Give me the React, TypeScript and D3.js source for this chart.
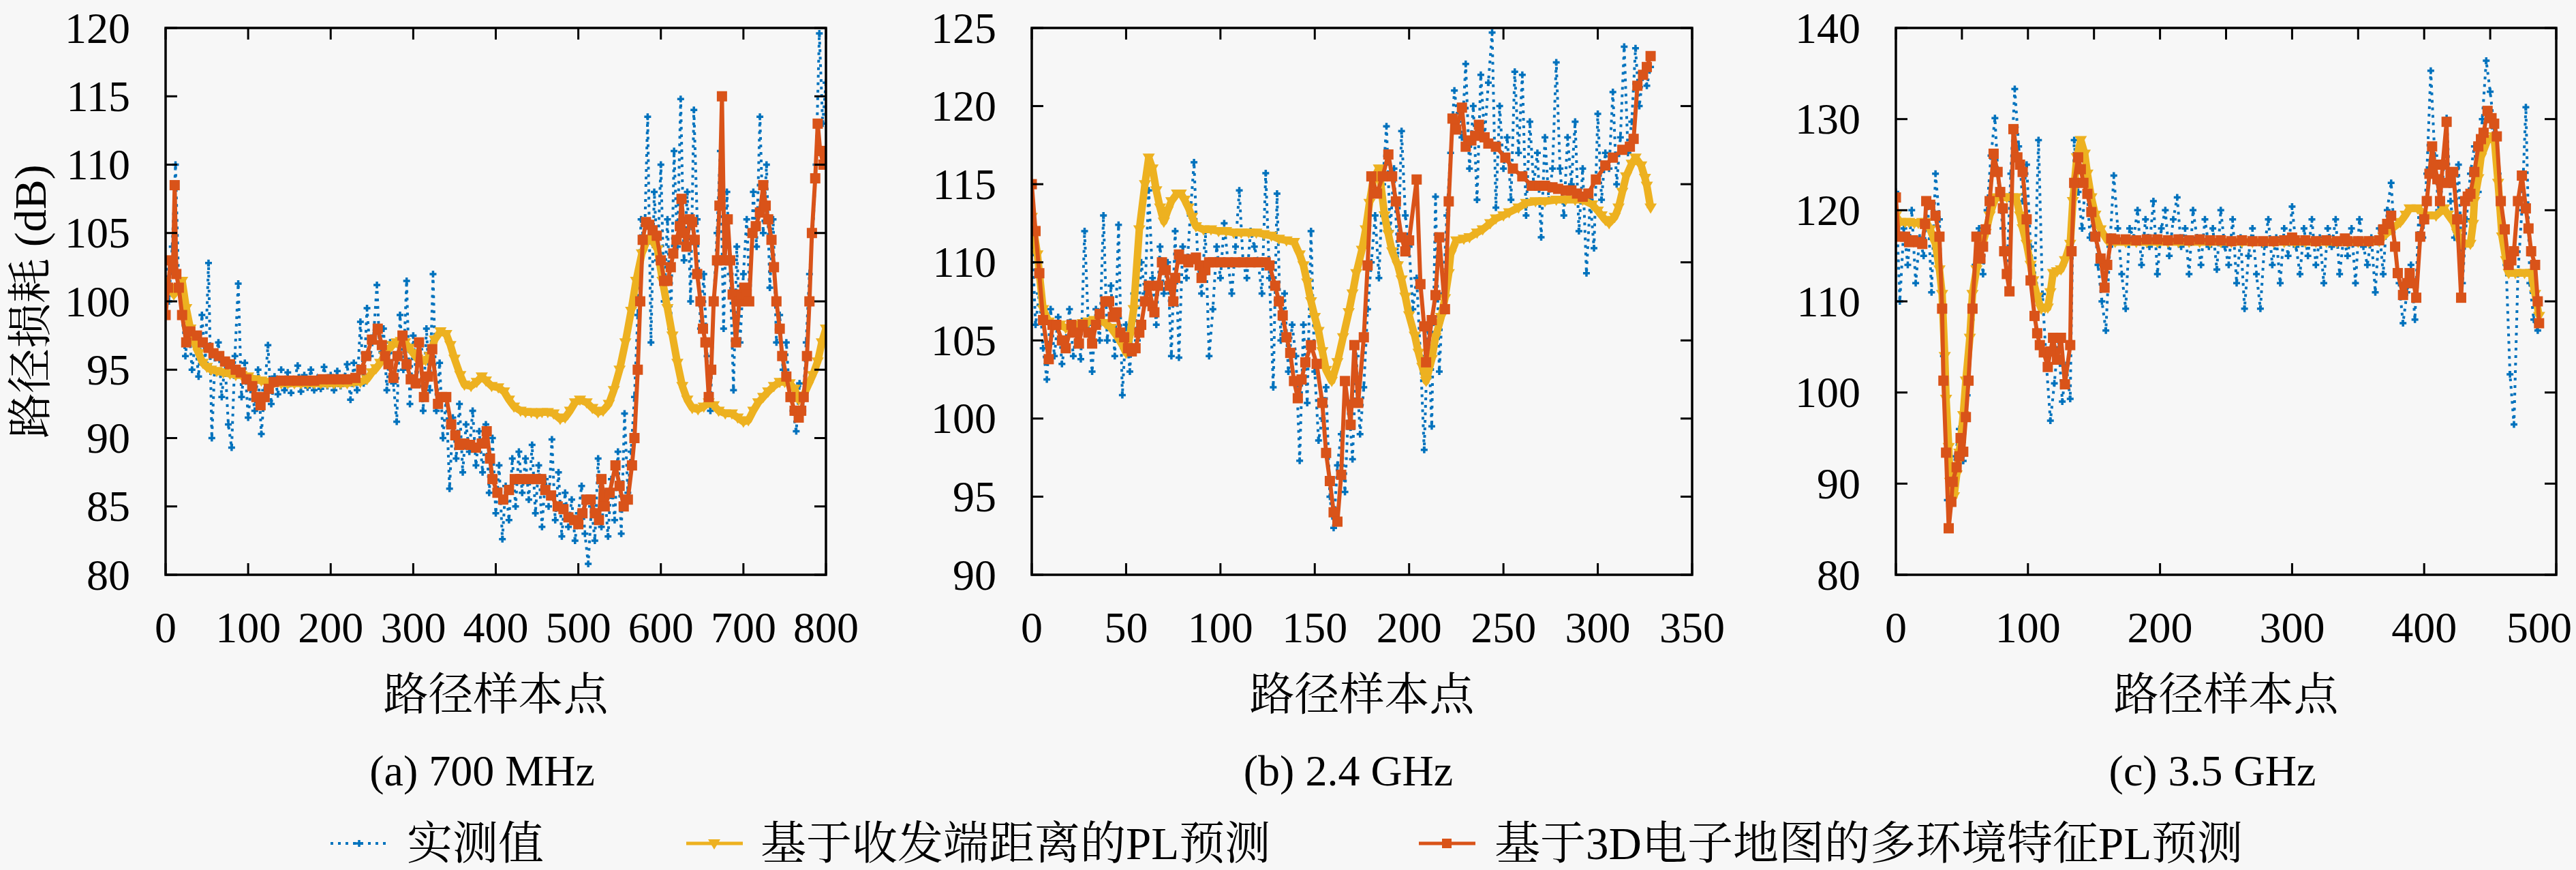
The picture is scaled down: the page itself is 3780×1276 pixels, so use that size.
import { useEffect } from 'react'
import * as d3 from 'd3'

const BG = '#f7f7f7'
const BLUE = '#0072BD'
const YELLOW = '#EDB120'
const RED = '#D95319'
const SERIF = "'Liberation Serif', 'DejaVu Serif', serif"
const CJK = "'Liberation Serif', 'Noto Serif CJK SC', 'Noto Sans CJK SC', serif"

const seriesNames = ['实测值', '基于收发端距离的PL预测', '基于3D电子地图的多环境特征PL预测']
const captions = ['(a) 700 MHz', '(b) 2.4 GHz', '(c) 3.5 GHz']
const xLabel = '路径样本点'
const yLabel = '路径损耗 (dB)'

const xDomains = [[0, 800], [0, 350], [0, 500]]
const yDomains = [[80, 120], [90, 125], [80, 140]]
const xTicksBottom = [
  [0, 100, 200, 300, 400, 500, 600, 700, 800],
  [0, 50, 100, 150, 200, 250, 300, 350],
  [0, 100, 200, 300, 400, 500],
]
const xTicksTop = [
  [0, 100, 200, 300, 400, 500, 600, 700, 800],
  [0, 50, 100, 150, 200, 250, 300, 350],
  [0, 50, 100, 150, 200, 250, 300, 350, 400, 450, 500],
]
const yTicks = [
  [80, 85, 90, 95, 100, 105, 110, 115, 120],
  [90, 95, 100, 105, 110, 115, 120, 125],
  [80, 90, 100, 110, 120, 130, 140],
]

// measured values, sampled every `measSteps[k]` path points
const measSteps = [4, 2, 3]
const measA = [
  103, 100, 104, 110, 101, 99,
  96, 98.5, 95, 97, 94.5, 99, 95.5, 102.8, 90, 96,
  97, 93, 95.5, 91, 89.3, 96, 101.3, 93, 95.5, 91.5,
  94, 92, 95, 90.3, 93.5, 96.8, 92.5, 94.5, 93.2, 95,
  93.5, 94.8, 93.3, 94.2, 95.3, 93.4, 94.6, 93.7, 95, 93.5,
  94.4, 93.6, 95.2, 93.8, 94.6, 93.5, 94.9, 93.8, 94.3, 95.4,
  92.8, 95.5, 93.5, 98.5, 94, 99.5, 96, 97.5, 101.2, 95.5,
  98, 93.5, 97, 94, 91.2, 99, 95, 101.5, 92.5, 97.5,
  94, 96.5, 92, 98, 93.5, 102, 92, 95.5, 90, 93,
  86.3, 91.5, 88.5, 92.5, 87.5, 91, 89, 92, 88, 90.5,
  87.5, 91, 86, 90, 84.5, 88, 82.6, 86.5, 84, 88.5,
  85, 89, 86, 88.5, 85.5, 89.5, 84.5, 88, 83.5, 87,
  85, 89.9, 84, 87.5, 82.8, 86, 83.5, 85.5, 82.5, 84.5,
  86.5, 83, 80.8, 85, 82.5, 88.5, 83.5, 86, 82.8, 87,
  84, 89, 83, 91.8, 86, 89, 93, 99, 106, 104,
  113.5, 97, 108, 103, 110, 100, 106, 98, 111, 104,
  114.8, 103, 108, 100, 114, 106, 98, 102, 96, 92,
  100, 105, 111, 98, 108, 102, 93.5, 104, 97, 102,
  106, 100, 108, 104, 113.5, 105, 110, 101, 106, 97,
  99, 95, 97, 93, 92, 90.5, 94, 92, 97, 102,
  105, 110, 119.6, 113, 116,
]
const measB = [
  112, 106, 108, 104.5, 102.5, 107, 104, 106.5, 103.5, 105,
  107, 104, 106, 103.8, 112, 106, 103, 107, 105, 113,
  105, 108.5, 104, 112.4, 101.5, 106, 103, 108, 105, 110,
  108, 114.6, 109, 106, 111, 108, 110, 104, 112, 103.9,
  111, 109, 113, 116.4, 110, 108, 112, 104, 107, 111,
  109, 112.5, 110, 108, 111, 114.6, 110, 109, 112, 111,
  110, 108, 115.7, 109, 102, 114.4, 105, 108, 103, 106,
  104, 97.3, 106, 101, 112, 103, 98.6, 100, 102, 95,
  93, 97, 99, 95.3, 101, 97.4, 104, 99, 102, 107,
  110, 113, 109, 115, 118.7, 112, 116, 110, 118.4, 113,
  111, 107, 109, 104, 98, 106, 99.5, 114.2, 103, 108,
  113, 117, 121, 119, 118, 122.7, 116, 120, 114, 122,
  118, 121.5, 124.7, 113.5, 120, 116, 118, 114, 122.2, 117,
  122, 113, 119, 115, 117, 111.6, 118, 114, 116, 122.8,
  116, 113, 118, 115, 119, 112, 116, 109.3, 114, 110.9,
  119.5, 114, 117, 116, 120.9, 115, 118, 123.8, 117, 119,
  123.7, 120, 122, 121.3, 122.5,
]
const measC = [
  122, 110, 118, 114, 120, 112, 117, 115, 121, 111,
  124, 119, 104, 88.2, 90, 93, 96, 92.5, 99.7, 108,
  114, 118, 113, 120, 126, 130.1, 122, 118, 113, 124,
  133.3, 127, 121, 125, 116, 112, 127.7, 110.8, 103, 96.9,
  101, 106, 99, 103, 99.3, 127.7, 122, 118, 124, 117,
  120, 114, 110, 106.8, 116, 123.8, 118, 113, 109.2, 118,
  117, 120, 114, 119, 116, 121, 113, 118, 120, 115,
  119, 121.4, 116, 118, 113, 120, 117, 114, 119, 116,
  118, 113.5, 120, 116, 114, 119, 112, 117, 109.2, 115,
  118, 113, 109.2, 116, 119, 114, 117, 112, 118, 115,
  120.4, 116, 113, 118, 115, 119, 114, 117, 112, 118,
  116, 119, 113, 117, 115, 118, 112, 119, 116, 114,
  117, 111, 118, 113, 120, 123, 116, 112, 107.6, 111,
  114, 108, 120, 117, 124, 135.3, 126, 120, 123, 130.1,
  121, 117, 125, 112, 119, 124, 127, 122, 130, 136.4,
  133, 129, 124, 118, 114, 102, 96.5, 113, 120, 131.3,
  112, 108, 106.8,
]

// distance-based prediction: [sample, dB]
const distA: [number, number][] = [
  [0, 101.5], [5, 101], [10, 100.5], [15, 101], [20, 101.5], [25, 99.5], [30, 98], [35, 97], [40, 96.2],
  [45, 95.5], [50, 95.2], [55, 95], [62, 94.9], [70, 94.8], [78, 94.7], [85, 94.6], [92, 94.6], [100, 94.5],
  [108, 94.3], [116, 94.2], [124, 94.1], [132, 94.1], [140, 94], [148, 94], [156, 94], [164, 94], [172, 94],
  [180, 94], [188, 94], [196, 94], [204, 94], [212, 94], [220, 94], [228, 94.1], [236, 94.1], [244, 94.3],
  [250, 94.8], [255, 95.1], [260, 95.5], [265, 96], [270, 96.5], [275, 96.8], [280, 97], [285, 97.1], [290, 97],
  [295, 96.6], [300, 96.2], [305, 95.8], [310, 95.6], [315, 95.7], [320, 96], [326, 97.2], [333, 97.8],
  [340, 97.6], [345, 96.8], [350, 95.8], [357, 94.6], [362, 93.9], [370, 93.8], [377, 94.1], [383, 94.5],
  [388, 94.2], [395, 93.8], [403, 93.7], [410, 93.4], [416, 92.8], [422, 92.3], [430, 92], [436, 91.9],
  [443, 91.9], [450, 91.8], [456, 91.9], [463, 91.9], [470, 91.8], [478, 91.4], [484, 91.5], [490, 92],
  [496, 92.6], [502, 92.8], [510, 92.6], [517, 92.2], [524, 91.9], [530, 92], [537, 92.5], [543, 93.5],
  [550, 95], [557, 97], [564, 99.3], [570, 101.5], [577, 103.5], [584, 104.6], [590, 104.4], [596, 103.8],
  [602, 101.5], [608, 99.5], [614, 97.5], [620, 95.5], [626, 93.8], [632, 92.8], [638, 92.2], [645, 92.1],
  [652, 92.3], [658, 92.6], [664, 92.4], [670, 92], [678, 91.8], [686, 91.8], [693, 91.5], [700, 91.2],
  [706, 91.3], [712, 92], [718, 92.6], [724, 93], [730, 93.4], [737, 93.8], [744, 94.1], [750, 94.1],
  [756, 94], [762, 93.6], [767, 92.8], [772, 93], [778, 93.8], [784, 94.6], [790, 95.6], [795, 97], [800, 98],
]
const distB: [number, number][] = [
  [0, 112.9], [3, 110.5], [6, 107], [9, 106.2], [12, 106], [15, 106], [18, 105.8], [21, 105.8], [24, 106],
  [27, 106.1], [30, 106.2], [33, 106.3], [36, 106.3], [39, 106.1], [42, 105.8], [45, 105.3], [48, 104.7],
  [50, 104.2], [52, 105.3], [54, 107], [57, 112.1], [60, 115], [62, 116.7], [64, 116], [66, 114.6],
  [68, 113.5], [70, 112.6], [72, 113.3], [74, 113.9], [77, 114.4], [79, 114.4], [81, 114], [83, 113.5],
  [85, 112.9], [87, 112.3], [91, 112.1], [95, 112.1], [99, 112], [103, 112], [107, 111.9], [111, 111.9],
  [115, 111.9], [119, 111.9], [123, 111.8], [127, 111.7], [131, 111.5], [135, 111.4], [139, 111.3],
  [142, 110.5], [144, 109.8], [146, 108.7], [148, 107.5], [150, 106.5], [152, 105.6], [154, 104.3],
  [156, 103.1], [159, 102.4], [162, 103.6], [165, 105.2], [168, 106.8], [170, 108], [172, 109.3],
  [175, 110.8], [177, 112.1], [179, 113.8], [181, 115.3], [184, 116], [187, 113], [189, 111.8], [191, 110.7],
  [194, 109.8], [196, 108.9], [198, 107.8], [200, 106.6], [203, 105.3], [205, 104.2], [207, 103.3],
  [209, 102.4], [212, 103.8], [214, 105.2], [217, 106.5], [219, 107.7], [221, 109.3], [222, 110.5],
  [225, 111.4], [229, 111.5], [232, 111.6], [236, 111.9], [239, 112.1], [243, 112.5], [246, 112.8],
  [250, 113], [253, 113.2], [258, 113.5], [262, 113.8], [267, 113.9], [272, 113.9], [278, 114], [283, 114],
  [288, 114], [292, 114], [297, 113.7], [300, 113.3], [302, 113], [304, 112.7], [306, 112.5], [309, 112.9],
  [311, 113.5], [313, 114.5], [315, 115.5], [318, 116.3], [320, 116.7], [323, 116.2], [325, 115.4],
  [326, 114.9], [328, 113.5],
]
const distC: [number, number][] = [
  [0, 119.4], [3, 118.7], [7, 118.7], [10, 118.7], [14, 118.6], [17, 118.6], [20, 118.7], [23, 118.7],
  [26, 117.9], [30, 116.3], [33, 113.5], [35, 110.8], [37, 104], [38, 99.3], [40, 94], [41, 90.2], [44, 88.6],
  [46, 91], [48, 93.4], [51, 97.5], [53, 101.3], [56, 106], [58, 110.8], [61, 113.5], [64, 115.5], [68, 117.5],
  [71, 119.4], [74, 120.8], [76, 121.4], [80, 121.4], [84, 121.4], [88, 121.4], [91, 121.4], [94, 119.4],
  [96, 118], [99, 116.3], [102, 114], [104, 112.3], [107, 110.5], [110, 109.2], [113, 109.3], [115, 109.3],
  [117, 111], [119, 113.1], [122, 113.3], [125, 113.5], [128, 114.5], [132, 116.3], [134, 121], [137, 125.8],
  [140, 127.7], [143, 126.2], [145, 124], [148, 121.4], [151, 119.5], [155, 117.9], [160, 116.7],
  [166, 116.5], [174, 116.5], [182, 116.5], [190, 116.5], [198, 116.5], [206, 116.5], [214, 116.5],
  [222, 116.5], [230, 116.5], [238, 116.5], [246, 116.5], [254, 116.5], [262, 116.5], [270, 116.5],
  [278, 116.5], [286, 116.5], [294, 116.5], [302, 116.5], [310, 116.5], [318, 116.5], [326, 116.5],
  [334, 116.5], [342, 116.5], [350, 116.5], [358, 116.5], [366, 116.6], [369, 117.1], [375, 117.9],
  [382, 118.7], [386, 119.5], [389, 120.2], [395, 120.2], [402, 119.4], [409, 119.4], [415, 120.2],
  [418, 119.5], [422, 118.7], [425, 117.5], [428, 116.3], [435, 116.3], [437, 118.5], [438, 121],
  [441, 123.5], [443, 125.8], [448, 127.7], [453, 128.1], [456, 123], [459, 117.1], [462, 114.5],
  [464, 113.1], [469, 113.1], [476, 113.1], [481, 113.1], [484, 110.8], [487, 108.4],
]

// 3D map multi-feature prediction: [sample, dB]
const mapA: [number, number][] = [
  [0, 99], [3, 101], [6, 103], [9, 102.5], [11, 108.5], [13, 102], [16, 101], [20, 99], [25, 97], [30, 97.8],
  [38, 97.5], [45, 97], [52, 96.6], [58, 96.2], [65, 96], [72, 95.6], [78, 95.4], [85, 95], [91, 94.8],
  [98, 94.3], [105, 93.8], [110, 93], [115, 92.4], [120, 93], [125, 93.6], [131, 94.1], [140, 94.2],
  [150, 94.2], [160, 94.2], [170, 94.2], [180, 94.2], [190, 94.3], [200, 94.3], [210, 94.3], [220, 94.3],
  [230, 94.4], [237, 95], [243, 96], [250, 97.2], [257, 98], [262, 96.8], [266, 96], [270, 95.4],
  [276, 94.4], [281, 96], [287, 97.5], [292, 95.4], [297, 94.3], [303, 94], [307, 97], [313, 93],
  [318, 94.5], [323, 96.5], [330, 92.5], [335, 93], [340, 93], [346, 91], [351, 90.2], [356, 89.5],
  [362, 89.6], [369, 89.5], [376, 89.3], [383, 89.6], [389, 90.5], [393, 88.5], [396, 87], [402, 86],
  [409, 85.5], [416, 86.2], [423, 87], [430, 87], [440, 87], [450, 87], [455, 87], [460, 86.2],
  [467, 85.8], [475, 85], [482, 84.8], [488, 84.2], [495, 84], [500, 83.7], [505, 84.5], [510, 85.5],
  [515, 85.5], [520, 84.5], [525, 84], [528, 87], [532, 85], [538, 86], [545, 88], [550, 86.5], [555, 85],
  [560, 85.5], [565, 88], [568, 90], [572, 95], [575, 100], [578, 104.5], [582, 105.8], [586, 105.6],
  [590, 105.2], [595, 104.8], [600, 103], [604, 101.5], [608, 101.5], [612, 102.5], [615, 103.5],
  [619, 104.5], [623, 105.5], [625, 107.5], [628, 105], [631, 104], [635, 106], [638, 105.8], [641, 104.5],
  [644, 102], [648, 100], [651, 98], [654, 97], [658, 93], [661, 95], [664, 100], [668, 103], [671, 107],
  [674, 115], [677, 103], [681, 106], [684, 103], [687, 100.5], [691, 97], [695, 100], [698, 100.5],
  [701, 101], [704, 100.5], [707, 100], [711, 105], [715, 105.5], [720, 106.5], [724, 108.5], [727, 107],
  [730, 106], [734, 104.5], [737, 102.5], [740, 100], [744, 98], [747, 96], [752, 94.5], [757, 93],
  [762, 92], [767, 91.5], [770, 92], [773, 93], [777, 96], [780, 100], [783, 105], [787, 109], [790, 113],
  [793, 111], [797, 110], [800, 111],
]
const mapB: [number, number][] = [
  [0, 115], [2, 112], [4, 109.3], [6, 106.3], [9, 103.8], [11, 106], [13, 106], [16, 105], [18, 104.5],
  [21, 106], [23, 105.5], [25, 104.8], [27, 106], [30, 105.5], [32, 104.8], [34, 106], [36, 106.7],
  [39, 107.5], [41, 107.5], [43, 106.5], [45, 106.8], [47, 105.5], [49, 105.2], [51, 104.5], [53, 104.3],
  [55, 104.5], [57, 105.5], [58, 106], [60, 107.5], [62, 108.5], [64, 107.2], [65, 106.8], [67, 108.5],
  [69, 110], [71, 109.5], [73, 108.5], [75, 107.5], [76, 109], [78, 110.5], [80, 110.2], [83, 110],
  [85, 110.2], [87, 110.3], [89, 109.8], [90, 109], [92, 109.5], [94, 110], [96, 110], [100, 110],
  [104, 110], [108, 110], [112, 110], [116, 110], [120, 110], [124, 110], [126, 109.8], [129, 108.5],
  [131, 107.5], [133, 106.6], [135, 105.2], [137, 104.2], [139, 102.4], [141, 101.3], [143, 102.5],
  [145, 103.6], [148, 104.7], [151, 103.5], [154, 101], [156, 97.8], [158, 96], [160, 94], [162, 93.4],
  [164, 96.4], [166, 102.4], [169, 99.6], [171, 104.7], [173, 101], [176, 105.2], [178, 109.8],
  [180, 115.5], [183, 114.4], [186, 115.5], [189, 116.9], [191, 115.5], [193, 113.9], [196, 111.6],
  [198, 110.7], [200, 111.4], [204, 115.3], [206, 108.6], [208, 105.9], [209, 103.6], [212, 106.3],
  [214, 107.9], [216, 111.6], [219, 107], [221, 113.9], [223, 119.2], [225, 118.5], [228, 119.9],
  [230, 117.4], [233, 117.8], [235, 118.1], [237, 118.8], [240, 118], [242, 117.6], [246, 117.4],
  [251, 116.7], [255, 116], [260, 115.5], [265, 114.9], [269, 114.9], [272, 114.9], [276, 114.8],
  [279, 114.7], [283, 114.6], [286, 114.6], [289, 114.4], [292, 114.2], [295, 114.4], [299, 115.3],
  [304, 116.2], [308, 116.7], [313, 117.2], [317, 117.4], [319, 117.9], [321, 121.3], [324, 122],
  [326, 122.5], [328, 123.2],
]
const mapC: [number, number][] = [
  [0, 121.4], [2, 117.1], [7, 117.1], [10, 116.5], [13, 116.7], [17, 116.5], [20, 116.3], [22, 118.5],
  [23, 121], [26, 120.6], [30, 119.4], [33, 117.1], [35, 109.2], [36, 101.3], [38, 93.4], [40, 85.1],
  [42, 88], [43, 90.2], [46, 91.8], [48, 93], [49, 95], [51, 93.5], [53, 97.3], [55, 101.3], [58, 109.2],
  [61, 117.1], [63, 115], [64, 114.7], [66, 116], [68, 117.9], [71, 121], [74, 126.2], [77, 124.2],
  [79, 122], [81, 120.2], [82, 115.5], [84, 113], [86, 111.1], [89, 128.9], [92, 125.8], [94, 125],
  [96, 124.2], [99, 119], [102, 112.3], [105, 108.4], [107, 106.5], [109, 105.2], [112, 104.4],
  [115, 102.8], [117, 104.5], [119, 106], [122, 103.6], [125, 106], [128, 100.9], [132, 105.2],
  [133, 115.5], [135, 123], [138, 125.8], [140, 124.5], [142, 123], [145, 121.8], [148, 119.8],
  [151, 117.1], [155, 114.7], [158, 111.5], [160, 114], [163, 116.9], [166, 116.8], [174, 116.8],
  [182, 116.7], [190, 116.8], [198, 116.8], [206, 116.7], [214, 116.8], [222, 116.7], [230, 116.8],
  [238, 116.7], [246, 116.7], [254, 116.6], [262, 116.7], [270, 116.6], [278, 116.6], [286, 116.6],
  [294, 116.7], [300, 117], [302, 116.7], [310, 116.7], [318, 116.6], [326, 116.7], [334, 116.6],
  [340, 116.9], [342, 116.6], [350, 116.6], [358, 116.6], [366, 116.7], [369, 117.9], [372, 118.5],
  [375, 119.4], [378, 116], [380, 113.1], [384, 110.7], [387, 112], [389, 113.1], [392, 112], [394, 110.4],
  [397, 117.1], [400, 119], [402, 121], [404, 124], [406, 127], [408, 125], [410, 123.4], [412, 121],
  [414, 125], [417, 129.7], [418, 123], [420, 123.8], [422, 124.2], [425, 119], [428, 110.4], [431, 121],
  [433, 121.5], [435, 121.8], [438, 124.2], [441, 127], [443, 127.8], [445, 128.5], [448, 130.9],
  [451, 130.1], [453, 129.5], [455, 128.1], [458, 121], [461, 117.9], [464, 114], [466, 114.5],
  [468, 115.5], [471, 121], [474, 123.8], [477, 120.2], [479, 118], [481, 115.5], [484, 114], [486, 110],
  [487, 107.6],
]

const measured = [measA, measB, measC]
const distPred = [distA, distB, distC]
const mapPred = [mapA, mapB, mapC]

const PANEL_LEFT = [243, 1514, 2782]
const PANEL_W = 969
const PANEL_TOP = 41
const PANEL_BOTTOM = 843
const TICK = 17
const CAPTION_SHIFT = -20

function Panel({ k }: { k: number }) {
  const x0 = PANEL_LEFT[k]
  const x = d3.scaleLinear().domain(xDomains[k]).range([x0, x0 + PANEL_W])
  const y = d3.scaleLinear().domain(yDomains[k]).range([PANEL_BOTTOM, PANEL_TOP])
  const line = d3.line<[number, number]>().x(d => x(d[0])).y(d => y(d[1]))
  const meas: [number, number][] = measured[k].map((v, i) => [i * measSteps[k], v])
  const clipId = `clip${k}`
  const cx = x0 + PANEL_W / 2

  return (
    <g>
      <defs>
        <clipPath id={clipId}>
          <rect x={x0} y={PANEL_TOP} width={PANEL_W} height={PANEL_BOTTOM - PANEL_TOP} />
        </clipPath>
      </defs>
      <g clipPath={`url(#${clipId})`}>
        <path d={line(meas) || ''} fill="none" stroke={BLUE} strokeWidth={4} strokeDasharray="4 7" />
        {meas.map((d, i) => (
          <path key={`m${i}`} d={`M${x(d[0]) - 5},${y(d[1])}h10M${x(d[0])},${y(d[1]) - 5}v10`} stroke={BLUE} strokeWidth={3.5} />
        ))}
        <path d={line(distPred[k]) || ''} fill="none" stroke={YELLOW} strokeWidth={11} strokeLinejoin="round" />
        {distPred[k].map((d, i) => {
          const px = x(d[0]), py = y(d[1])
          return <path key={`d${i}`} d={`M${px - 9},${py - 6}L${px + 9},${py - 6}L${px},${py + 9}Z`} fill={YELLOW} />
        })}
        <path d={line(mapPred[k]) || ''} fill="none" stroke={RED} strokeWidth={6} strokeLinejoin="round" />
        {mapPred[k].map((d, i) => (
          <rect key={`r${i}`} x={x(d[0]) - 7.5} y={y(d[1]) - 7.5} width={15} height={15} fill={RED} />
        ))}
      </g>
      <rect x={x0} y={PANEL_TOP} width={PANEL_W} height={PANEL_BOTTOM - PANEL_TOP} fill="none" stroke="#000" strokeWidth={3.5} />
      {xTicksBottom[k].map(t => (
        <g key={`xb${t}`}>
          <line x1={x(t)} x2={x(t)} y1={PANEL_BOTTOM} y2={PANEL_BOTTOM - TICK} stroke="#000" strokeWidth={3} />
          <text x={Math.min(x(t), 3726)} y={920} textAnchor="middle" dominantBaseline="central" fontFamily={SERIF} fontSize={64}>{t}</text>
        </g>
      ))}
      {xTicksTop[k].map(t => (
        <line key={`xt${t}`} x1={x(t)} x2={x(t)} y1={PANEL_TOP} y2={PANEL_TOP + TICK} stroke="#000" strokeWidth={3} />
      ))}
      {yTicks[k].map(t => (
        <g key={`y${t}`}>
          <line x1={x0} x2={x0 + TICK} y1={y(t)} y2={y(t)} stroke="#000" strokeWidth={3} />
          <line x1={x0 + PANEL_W} x2={x0 + PANEL_W - TICK} y1={y(t)} y2={y(t)} stroke="#000" strokeWidth={3} />
          <text x={x0 - 52} y={y(t)} textAnchor="end" dominantBaseline="central" fontFamily={SERIF} fontSize={64}>{t}</text>
        </g>
      ))}
      <text x={cx} y={1018} textAnchor="middle" dominantBaseline="central" fontFamily={CJK} fontSize={66}>{xLabel}</text>
      <text x={cx + CAPTION_SHIFT} y={1130} textAnchor="middle" dominantBaseline="central" fontFamily={SERIF} fontSize={64}>{captions[k]}</text>
    </g>
  )
}

export default function App() {
  useEffect(() => {
    document.body.style.margin = '0'
    document.body.style.background = BG
  }, [])

  const ly = 1237
  return (
    <svg width={3780} height={1276} viewBox="0 0 3780 1276" style={{ display: 'block', background: BG }}>
      <rect width={3780} height={1276} fill={BG} />
      {[0, 1, 2].map(k => <Panel key={k} k={k} />)}
      <text transform={`translate(44,442) rotate(-90)`} textAnchor="middle" dominantBaseline="central" fontFamily={CJK} fontSize={66}>{yLabel}</text>

      {/* legend */}
      <line x1={485} x2={568} y1={ly} y2={ly} stroke={BLUE} strokeWidth={4} strokeDasharray="4 7" />
      <path d={`M${522},${ly}h10M${527},${ly - 5}v10`} stroke={BLUE} strokeWidth={3.5} />
      <text x={597} y={ly} dominantBaseline="central" fontFamily={CJK} fontSize={67}>{seriesNames[0]}</text>

      <line x1={1007} x2={1090} y1={ly} y2={ly} stroke={YELLOW} strokeWidth={5} />
      <path d={`M${1039},${ly - 6}L${1057},${ly - 6}L${1048},${ly + 9}Z`} fill={YELLOW} />
      <text x={1116} y={ly} dominantBaseline="central" fontFamily={CJK} fontSize={67}>{seriesNames[1]}</text>

      <line x1={2082} x2={2165} y1={ly} y2={ly} stroke={RED} strokeWidth={5} />
      <rect x={2123 - 7} y={ly - 7} width={14} height={14} fill={RED} />
      <text x={2193} y={ly} dominantBaseline="central" fontFamily={CJK} fontSize={67}>{seriesNames[2]}</text>
    </svg>
  )
}
